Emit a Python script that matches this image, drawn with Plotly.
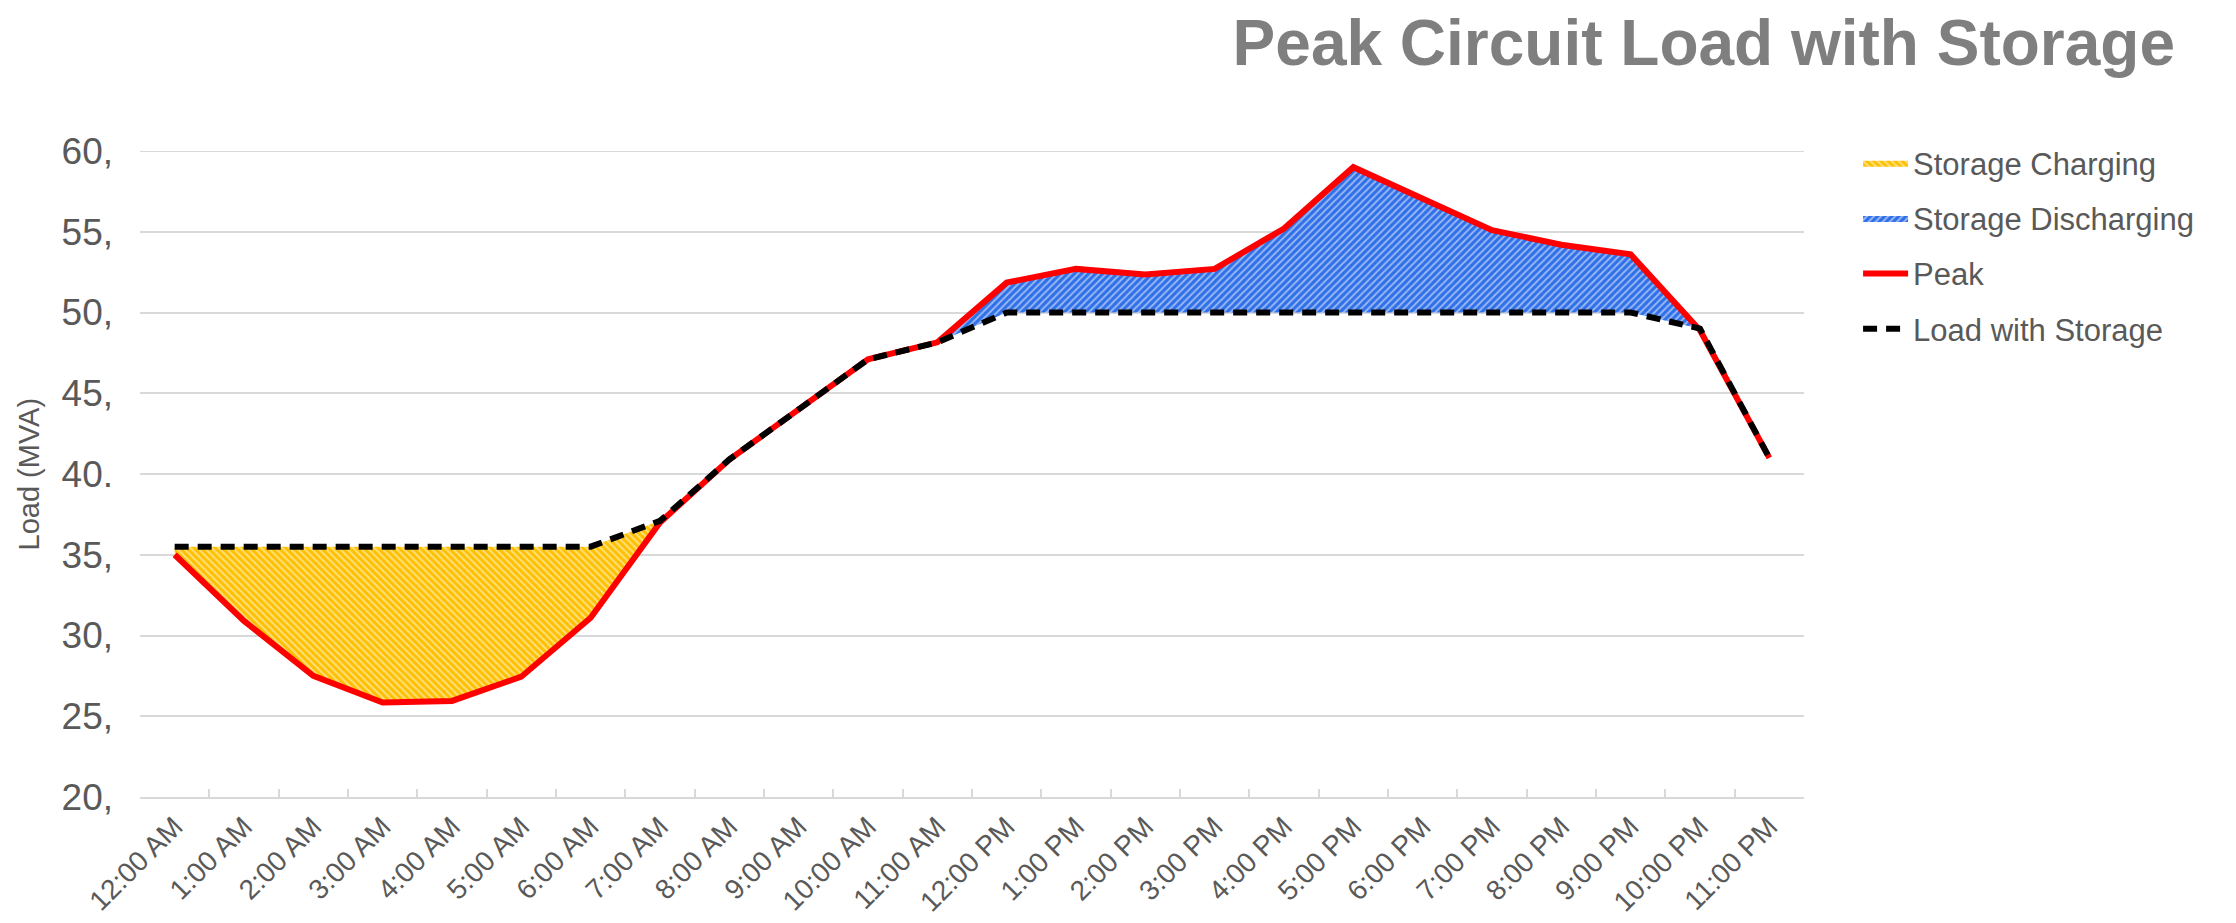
import plotly.graph_objects as go

hours = ["12:00 AM", "1:00 AM", "2:00 AM", "3:00 AM", "4:00 AM", "5:00 AM",
         "6:00 AM", "7:00 AM", "8:00 AM", "9:00 AM", "10:00 AM", "11:00 AM",
         "12:00 PM", "1:00 PM", "2:00 PM", "3:00 PM", "4:00 PM", "5:00 PM",
         "6:00 PM", "7:00 PM", "8:00 PM", "9:00 PM", "10:00 PM", "11:00 PM"]
peak = [35.0, 30.9, 27.5, 25.85, 25.95, 27.45, 31.1, 37.0, 40.9, 44.0, 47.1, 48.15,
        51.85, 52.7, 52.35, 52.7, 55.2, 59.0, 57.05, 55.1, 54.2, 53.6, 48.9, 41.0]
load_storage = [35.5, 35.5, 35.5, 35.5, 35.5, 35.5, 35.5, 37.1, 40.9, 44.0, 47.1, 48.15,
                50.0, 50.0, 50.0, 50.0, 50.0, 50.0, 50.0, 50.0, 50.0, 50.0, 49.0, 41.0]
charge_idx = list(range(0, 8))
discharge_idx = list(range(11, 23))
y_ticks = [20, 25, 30, 35, 40, 45, 50, 55, 60]
y_ticktext = ["20,", "25,", "30,", "35,", "40.", "45,", "50,", "55,", "60,"]
y_min, y_max = 20, 60

FONT = "Liberation Sans, Arial, sans-serif"
GRAY = "#595959"
GRID = "#D9D9D9"

# page body adds an 8px offset; figure is sized to fit the window
W, H = 2228, 915
L, R, T, B = 132, 432, 143, 126
PW = W - L - R

fig = go.Figure()

# Storage charging (load with storage above peak)
fig.add_trace(go.Scatter(
    x=[hours[i] for i in charge_idx], y=[load_storage[i] for i in charge_idx],
    mode="lines", line=dict(width=0, color="rgba(0,0,0,0)"),
    showlegend=False, hoverinfo="skip", legendgroup="g1"))
fig.add_trace(go.Scatter(
    x=[hours[i] for i in charge_idx], y=[peak[i] for i in charge_idx],
    mode="lines", line=dict(width=0, color="#FFC000"), fill="tonexty",
    fillcolor="#FFC000",
    fillpattern=dict(shape="\\", fgcolor="#FFFFFF", bgcolor="#FFC000",
                     size=5, solidity=0.4),
    name="Storage Charging", legendgroup="g1"))

# Storage discharging (peak above load with storage)
fig.add_trace(go.Scatter(
    x=[hours[i] for i in discharge_idx], y=[load_storage[i] for i in discharge_idx],
    mode="lines", line=dict(width=0, color="rgba(0,0,0,0)"),
    showlegend=False, hoverinfo="skip", legendgroup="g2"))
fig.add_trace(go.Scatter(
    x=[hours[i] for i in discharge_idx], y=[peak[i] for i in discharge_idx],
    mode="lines", line=dict(width=0, color="#2F6FE8"), fill="tonexty",
    fillcolor="#2F6FE8",
    fillpattern=dict(shape="/", fgcolor="#FFFFFF", bgcolor="#2F6FE8",
                     size=5, solidity=0.4),
    name="Storage Discharging", legendgroup="g2"))

fig.add_trace(go.Scatter(
    x=hours, y=peak, mode="lines", name="Peak",
    line=dict(color="#FF0000", width=6), legendgroup="g3"))
fig.add_trace(go.Scatter(
    x=hours, y=load_storage, mode="lines", name="Load with Storage",
    line=dict(color="#000000", width=6, dash="14px,9px"), legendgroup="g4"))

fig.update_layout(
    width=W, height=H,
    paper_bgcolor="white", plot_bgcolor="white",
    margin=dict(l=L, r=R, t=T, b=B, autoexpand=False),
    font=dict(family=FONT, color=GRAY),
    title=dict(text="<b>Peak Circuit Load with Storage</b>",
               font=dict(family=FONT, size=64, color="#7F7F7F"),
               xref="container", x=2167 / W, xanchor="right",
               yref="container", y=1 - 35 / H, yanchor="middle"),
    legend=dict(x=1.0325, xanchor="left", y=1.023, yanchor="top",
                font=dict(size=31, color=GRAY, family=FONT),
                tracegroupgap=12, itemwidth=45, bgcolor="rgba(0,0,0,0)",
                traceorder="grouped"),
    showlegend=True,
    annotations=[dict(text="Load (MVA)", textangle=-90, xref="paper", yref="paper",
                      x=(20.5 - L) / PW, y=0.5, xanchor="center", yanchor="middle",
                      showarrow=False, font=dict(size=29, color=GRAY, family=FONT))],
    shapes=[dict(type="line", xref="paper", x0=0, x1=1, yref="y",
                 y0=y_max, y1=y_max, line=dict(color=GRID, width=2), layer="below")],
)

fig.update_xaxes(
    type="category", categoryorder="array", categoryarray=hours,
    range=[-0.5, 23.5], tickson="boundaries", ticks="inside", ticklen=8,
    tickwidth=2, tickcolor=GRID, showline=True, linecolor=GRID, linewidth=2,
    showgrid=False, tickangle=-45, tickfont=dict(size=28, color=GRAY, family=FONT),
    fixedrange=True)
fig.update_yaxes(
    range=[y_min, y_max], tickvals=y_ticks, ticktext=y_ticktext, showgrid=True,
    gridcolor=GRID, gridwidth=2, zeroline=False, showline=False, ticks="",
    ticklabelstandoff=26, tickfont=dict(size=37, color=GRAY, family=FONT),
    fixedrange=True)

fig.write_html("out.html")
